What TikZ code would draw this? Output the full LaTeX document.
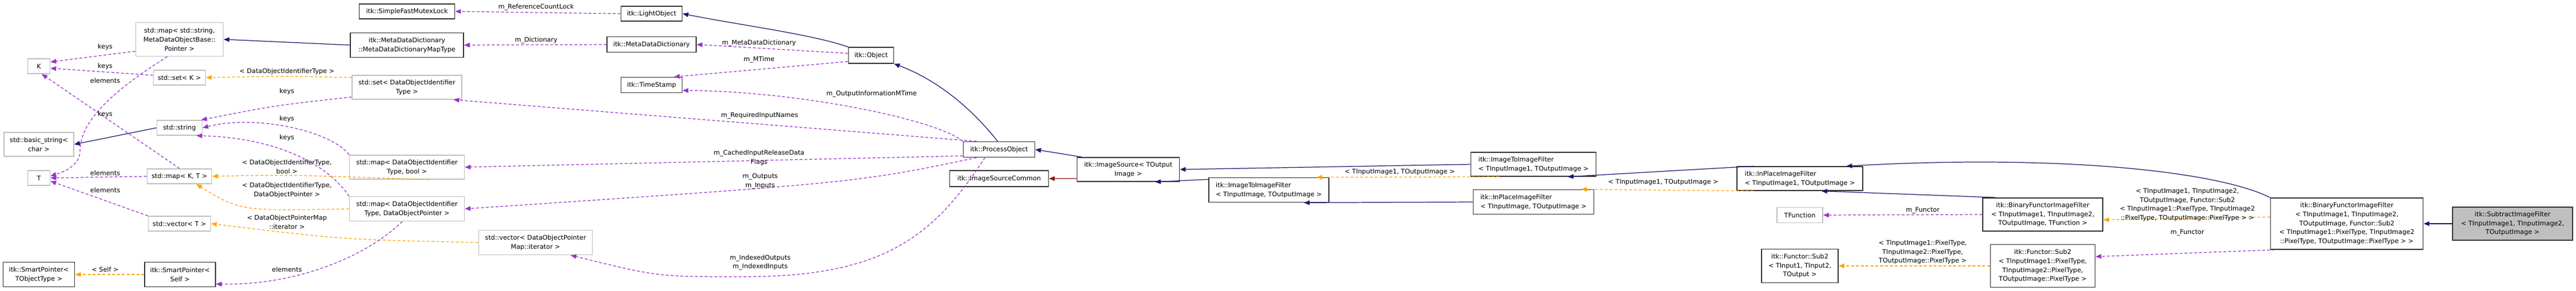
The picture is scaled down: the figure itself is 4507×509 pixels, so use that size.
\documentclass[tikz,border=0pt]{standalone}
\usepackage{fontspec}
\setmainfont{DejaVu Sans}
\usetikzlibrary{arrows.meta}
\definecolor{inhcol}{HTML}{191970}
\definecolor{usecol}{HTML}{9A32CD}
\definecolor{tplcol}{HTML}{FFA500}
\definecolor{prvcol}{HTML}{8B1A1A}
\newcommand{\dgfont}{\fontsize{3.2pt}{4.5pt}\selectfont}

\begin{document}
\begin{tikzpicture}[x=0.01cm, y=-0.01cm,
    box/.style={draw=black!80, fill=white, line width=0.45pt, align=center, inner sep=0.5pt, font=\dgfont},
    ext/.style={box, draw=black!25},
    tip/.style={-{Triangle[length=0.1cm,width=0.08cm]}},
    inh/.style={tip, draw=inhcol, line width=0.35pt},
    prv/.style={tip, draw=prvcol, line width=0.35pt},
    use/.style={tip, draw=usecol, line width=0.35pt, dash pattern=on 0.05cm off 0.035cm},
    tpl/.style={tip, draw=tplcol, line width=0.35pt, dash pattern=on 0.05cm off 0.035cm},
    lbl/.style={font=\dgfont, align=center, inner sep=0pt}]

    \useasboundingbox (0,0) rectangle (4507,509);

    % Left column
    \node[ext, minimum width=0.39cm, minimum height=0.26cm] (kk) at (68,116) {K};
    \node[ext, minimum width=1.22cm, minimum height=0.42cm] (bstr) at (68,253) {std::basic\_string<\\ char >};
    \node[ext, minimum width=0.39cm, minimum height=0.26cm] (tt) at (68,312) {T};
    \node[box, minimum width=1.25cm, minimum height=0.43cm] (spobj) at (68,481) {itk::SmartPointer<\\ TObjectType >};

    % std containers
    \node[ext, minimum width=1.53cm, minimum height=0.59cm] (smapstr) at (314,69) {std::map< std::string,\\ MetaDataObjectBase::\\ Pointer >};
    \node[ext, minimum width=0.91cm, minimum height=0.26cm] (setk) at (314,136) {std::set< K >};
    \node[ext, minimum width=0.79cm, minimum height=0.26cm] (sstr) at (314,224) {std::string};
    \node[ext, minimum width=1.13cm, minimum height=0.26cm] (mapkt) at (314,309) {std::map< K, T >};
    \node[ext, minimum width=1.09cm, minimum height=0.26cm] (vect) at (314,392) {std::vector< T >};
    \node[box, minimum width=1.24cm, minimum height=0.43cm] (spself) at (315,481) {itk::SmartPointer<\\ Self >};

    \node[box, minimum width=1.67cm, minimum height=0.26cm] (mutex) at (712,20) {itk::SimpleFastMutexLock};
    \node[box, minimum width=1.98cm, minimum height=0.43cm] (mddmt) at (712,79) {itk::MetaDataDictionary\\ ::MetaDataDictionaryMapType};
    \node[ext, minimum width=1.92cm, minimum height=0.42cm] (sdoit) at (712,153) {std::set< DataObjectIdentifier\\ Type >};
    \node[ext, minimum width=2.01cm, minimum height=0.42cm] (mapbool) at (712,293) {std::map< DataObjectIdentifier\\ Type, bool >};
    \node[ext, minimum width=2.01cm, minimum height=0.43cm] (mapdop) at (712,366) {std::map< DataObjectIdentifier\\ Type, DataObjectPointer >};
    \node[ext, minimum width=1.99cm, minimum height=0.43cm] (veciter) at (937,425) {std::vector< DataObjectPointer\\ Map::iterator >};

    % itk core
    \node[box, minimum width=1.07cm, minimum height=0.26cm] (light) at (1140,24) {itk::LightObject};
    \node[box, minimum width=1.56cm, minimum height=0.27cm] (mdd) at (1140,78) {itk::MetaDataDictionary};
    \node[box, minimum width=1.07cm, minimum height=0.27cm] (tstamp) at (1140,149) {itk::TimeStamp};
    \node[box, minimum width=0.79cm, minimum height=0.28cm] (obj) at (1524,97) {itk::Object};
    \node[box, minimum width=1.25cm, minimum height=0.27cm] (proc) at (1748,262) {itk::ProcessObject};
    \node[box, minimum width=1.73cm, minimum height=0.28cm] (isc) at (1748,313) {itk::ImageSourceCommon};
    \node[box, minimum width=1.79cm, minimum height=0.42cm] (isrc) at (1974,297) {itk::ImageSource< TOutput\\ Image >};

    % filters
    \node[box, minimum width=2.10cm, minimum height=0.43cm, align=left] (itif) at (2220,333) {itk::ImageToImageFilter\\ < TInputImage, TOutputImage >};
    \node[box, minimum width=2.19cm, minimum height=0.42cm, align=left] (itif1) at (2683,288) {itk::ImageToImageFilter\\ < TInputImage1, TOutputImage >};
    \node[box, minimum width=2.11cm, minimum height=0.43cm, align=left] (ipf) at (2683,354) {itk::InPlaceImageFilter\\ < TInputImage, TOutputImage >};
    \node[box, minimum width=2.20cm, minimum height=0.42cm, align=left] (ipf1) at (3149,313) {itk::InPlaceImageFilter\\ < TInputImage1, TOutputImage >};
    \node[ext, minimum width=0.80cm, minimum height=0.27cm] (tfunc) at (3149,377) {TFunction};
    \node[box, minimum width=1.34cm, minimum height=0.59cm] (sub2) at (3149,466) {itk::Functor::Sub2\\ < TInput1, TInput2,\\ TOutput >};
    \node[box, minimum width=2.10cm, minimum height=0.58cm] (bfif) at (3574,376) {itk::BinaryFunctorImageFilter\\ < TInputImage1, TInputImage2,\\ TOutputImage, TFunction >};
    \node[box, minimum width=1.83cm, minimum height=0.75cm] (sub2px) at (3574,466) {itk::Functor::Sub2\\ < TInputImage1::PixelType,\\ TInputImage2::PixelType,\\ TOutputImage::PixelType >};
    \node[box, minimum width=2.67cm, minimum height=0.90cm] (bfsub) at (4106,392) {itk::BinaryFunctorImageFilter\\ < TInputImage1, TInputImage2,\\ TOutputImage, Functor::Sub2\\ < TInputImage1::PixelType, TInputImage2\\ ::PixelType, TOutputImage::PixelType > >};
    \node[box, fill=black!25, minimum width=2.10cm, minimum height=0.58cm] (sub) at (4396,392) {itk::SubtractImageFilter\\ < TInputImage1, TInputImage2,\\ TOutputImage >};

    % Inheritance
    \draw[inh] (mddmt.west) -- (smapstr.east);
    \draw[inh] (sstr.west) -- (bstr.east);
    \draw[inh] (obj.north west) .. controls (1420,60) and (1300,45) .. (light.east);
    \draw[inh] (proc.100) .. controls (1700,190) and (1640,140) .. (obj.south east);
    \draw[inh] (isrc.165) -- (proc.east);
    \draw[prv] (isrc.190) -- (isc.east);
    \draw[inh] (itif1.west) -- (isrc.east);
    \draw[inh] (itif.170) -- (isrc.-25);
    \draw[inh] (ipf.west) -- (itif.-20);
    \draw[inh] (ipf1.165) -- (itif1.-20);
    \draw[inh] (bfif.160) -- (ipf1.-30);
    \draw[inh] (bfsub.north west) .. controls (3880,300) and (3600,270) .. (ipf1.15);
    \draw[inh] (sub.west) -- (bfsub.east);

    % Template instances
    \draw[tpl] (sdoit.170) .. controls (500,133) .. (setk.east);
    \draw[tpl] (mapbool.-30) .. controls (500,306) .. (mapkt.east);
    \draw[tpl] (mapdop.west) .. controls (420,370) .. (mapkt.-25);
    \draw[tpl] (veciter.west) .. controls (600,420) .. (vect.east);
    \draw[tpl] (spself.west) -- (spobj.east);
    \draw[tpl] (itif1.-160) -- (itif.15);
    \draw[tpl] (ipf1.-165) -- (ipf.15);
    \draw[tpl] (sub2px.west) -- (sub2.east);
    \draw[tpl] (bfsub.175) -- (bfif.-5);

    % Members
    \draw[use] (smapstr.-165) -- (kk.20);
    \draw[use] (setk.175) -- (kk.-10);
    \draw[use] (mapkt.north) -- (kk.-70);
    \draw[use] (smapstr.-125) .. controls (180,170) and (140,220) .. (140,265) .. controls (140,290) and (110,302) .. (tt.10);
    \draw[use] (mapkt.west) -- (tt.east);
    \draw[use] (vect.north west) -- (tt.-15);
    \draw[use] (sdoit.-170) .. controls (480,185) .. (sstr.20);
    \draw[use] (mapbool.north west) .. controls (580,230) and (450,200) .. (sstr.east);
    \draw[use] (mapdop.north west) .. controls (560,270) and (450,240) .. (sstr.-25);
    \draw[use] (mapdop.-110) .. controls (640,450) and (520,500) .. (spself.-15);
    \draw[use] (light.west) -- (mutex.east);
    \draw[use] (mdd.west) -- (mddmt.east);
    \draw[use] (obj.175) -- (mdd.east);
    \draw[use] (obj.-165) -- (tstamp.20);
    \draw[use] (proc.north west) .. controls (1640,210) and (1400,160) .. (tstamp.-10);
    \draw[use] (proc.160) -- (sdoit.-15);
    \draw[use] (proc.-170) -- (mapbool.east);
    \draw[use] (proc.-160) .. controls (1500,320) .. (mapdop.east);
    \draw[use] (proc.-150) .. controls (1630,420) and (1540,485) .. (1300,485) .. controls (1150,485) .. (veciter.-20);
    \draw[use] (bfif.west) -- (tfunc.east);
    \draw[use] (bfsub.-160) -- (sub2px.10);

    % Edge labels
    \node[lbl] (l1) at (184,82) {keys};
    \node[lbl] (l2) at (184,116) {keys};
    \node[lbl] (l3) at (184,141) {elements};
    \node[lbl] (l4) at (184,200) {keys};
    \node[lbl] (l5) at (184,303) {elements};
    \node[lbl] (l6) at (184,333) {elements};
    \node[lbl] (l7) at (184,472) {< Self >};
    \node[lbl] (l8) at (502,125) {< DataObjectIdentifierType >};
    \node[lbl] (l9) at (502,160) {keys};
    \node[lbl] (l10) at (502,208) {keys};
    \node[lbl] (l11) at (502,241) {keys};
    \node[lbl] (l12) at (502,292) {< DataObjectIdentifierType,\\ bool >};
    \node[lbl] (l13) at (502,333) {< DataObjectIdentifierType,\\ DataObjectPointer >};
    \node[lbl] (l14) at (502,389) {< DataObjectPointerMap\\ ::iterator >};
    \node[lbl] (l15) at (502,472) {elements};
    \node[lbl] (l16) at (938,13) {m\_ReferenceCountLock};
    \node[lbl] (l17) at (938,71) {m\_Dictionary};
    \node[lbl] (l18) at (1328,76) {m\_MetaDataDictionary};
    \node[lbl] (l19) at (1328,105) {m\_MTime};
    \node[lbl] (l20) at (1525,165) {m\_OutputInformationMTime};
    \node[lbl] (l21) at (1329,203) {m\_RequiredInputNames};
    \node[lbl] (l22) at (1328,276) {m\_CachedInputReleaseData\\ Flags};
    \node[lbl] (l23) at (1330,318) {m\_Outputs\\ m\_Inputs};
    \node[lbl] (l24) at (1330,460) {m\_IndexedOutputs\\ m\_IndexedInputs};
    \node[lbl] (l25) at (2449,301) {< TInputImage1, TOutputImage >};
    \node[lbl] (l26) at (2910,319) {< TInputImage1, TOutputImage >};
    \node[lbl] (l27) at (3364,369) {m\_Functor};
    \node[lbl] (l28) at (3364,442) {< TInputImage1::PixelType,\\ TInputImage2::PixelType,\\ TOutputImage::PixelType >};
    \node[lbl] (l29) at (3827,359) {< TInputImage1, TInputImage2,\\ TOutputImage, Functor::Sub2\\ < TInputImage1::PixelType, TInputImage2\\ ::PixelType, TOutputImage::PixelType > >};
    \node[lbl] (l30) at (3827,408) {m\_Functor};

\end{tikzpicture}
\end{document}
